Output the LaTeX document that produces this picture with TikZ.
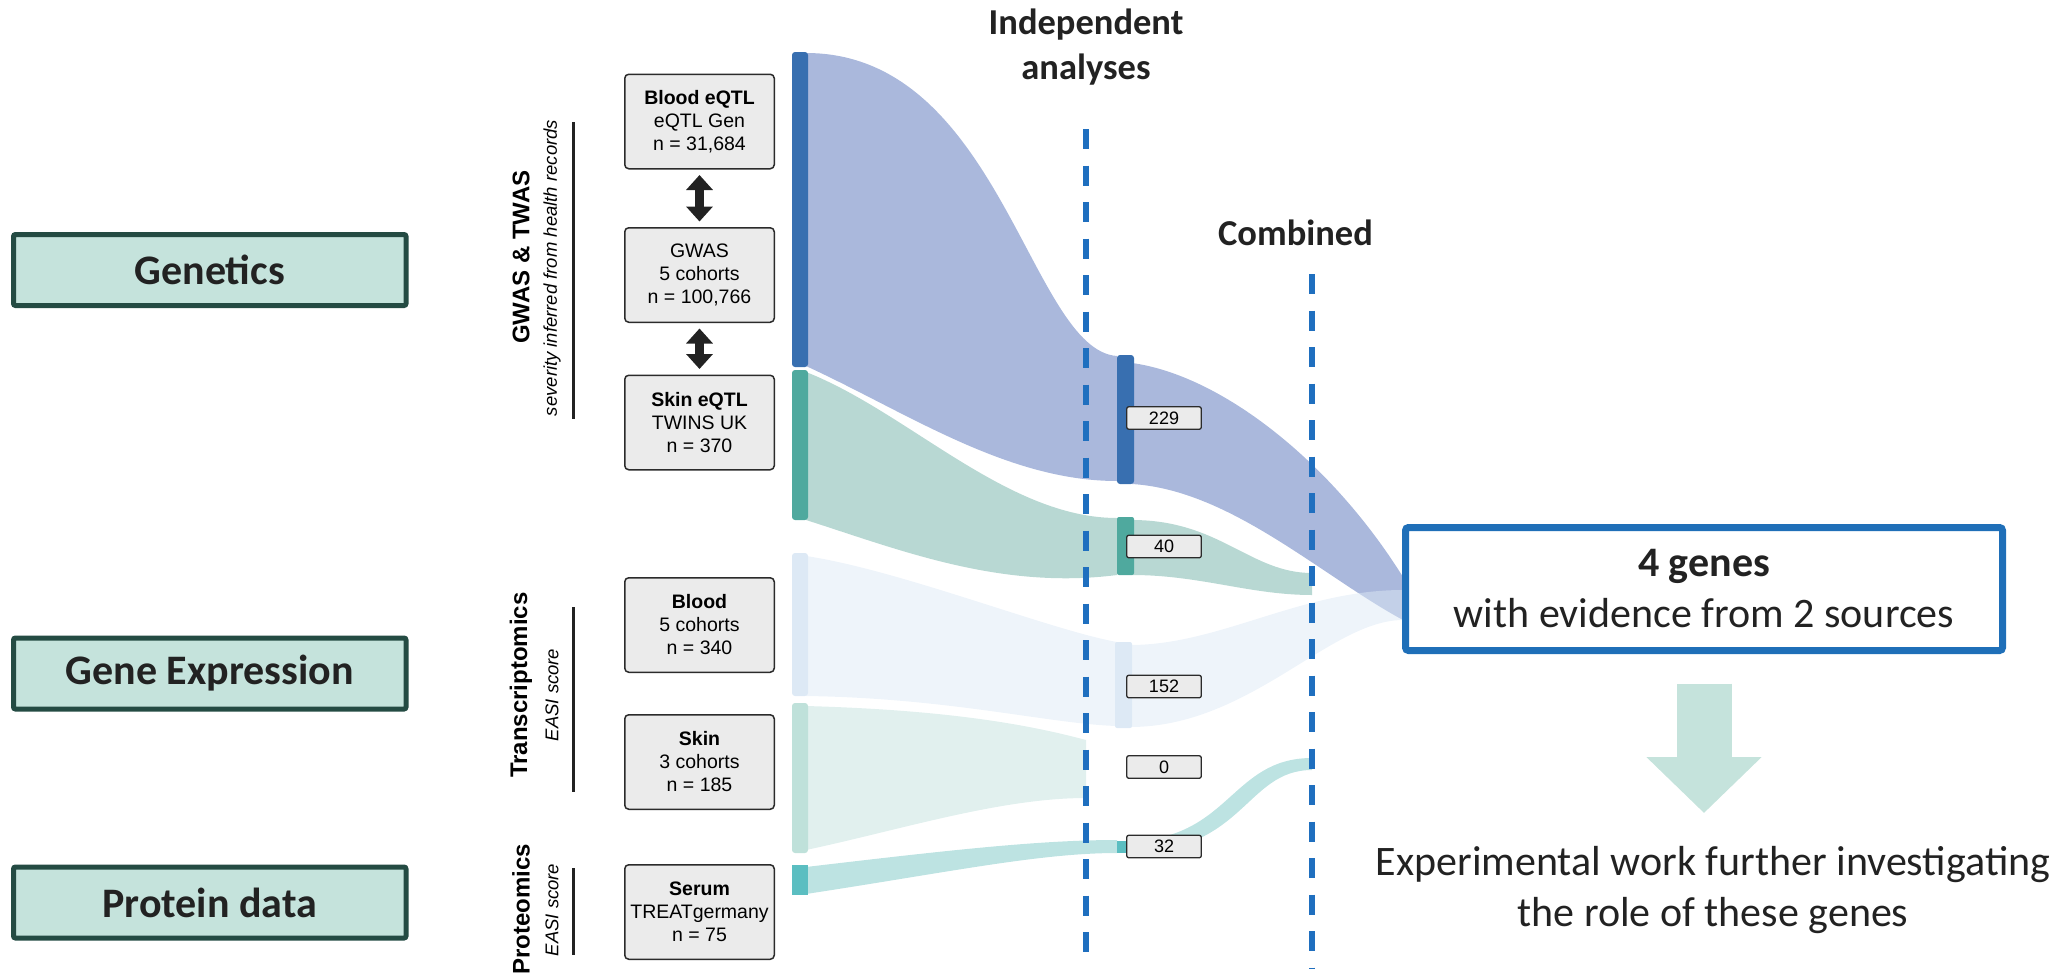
\documentclass[tikz,border=0pt]{standalone}
\usepackage{fontspec}
\setmainfont{Liberation Sans}
\newfontfamily\calibri{Carlito}
\usetikzlibrary{arrows.meta}

\definecolor{mint}{HTML}{C5E3DC}
\definecolor{mintline}{HTML}{244B43}
\definecolor{inkdark}{HTML}{222222}
\definecolor{boxgray}{HTML}{EBEBEB}
\definecolor{boxline}{HTML}{2B2B2B}
\definecolor{gwasbar}{HTML}{386FB0}
\definecolor{gwasflow}{HTML}{AAB8DC}
\definecolor{skinbar}{HTML}{4FA99E}
\definecolor{skinflow}{HTML}{B8D8D3}
\definecolor{bloodbar}{HTML}{DDE9F5}
\definecolor{tskinbar}{HTML}{BFE1DA}
\definecolor{tskinflow}{HTML}{E1F0EE}
\definecolor{serumbar}{HTML}{5BBEC1}
\definecolor{serumflow}{HTML}{BDE3E2}
\definecolor{cutblue}{HTML}{1F6FBF}
\definecolor{genesblue}{HTML}{1F6FB8}

\newcommand{\srcfont}{\fontsize{19.5}{23}\selectfont}
\newcommand{\colfont}{\calibri\fontsize{36.5}{45}\selectfont\bfseries}
\newcommand{\topicfont}{\calibri\fontsize{42}{50}\selectfont\bfseries}
\newcommand{\resfont}{\calibri\fontsize{42}{51}\selectfont}

\begin{document}
\begin{tikzpicture}[x=1pt, y=-1pt,
  topic/.style = {draw=mintline, line width=5pt, fill=mint, rounded corners=2pt,
    minimum width=392.5pt, minimum height=71pt, inner sep=0pt, font=\topicfont, text=inkdark},
  source/.style = {draw=boxline, line width=1.5pt, fill=boxgray, rounded corners=4pt,
    minimum width=149.5pt, minimum height=94.5pt, inner sep=0pt, align=center, font=\srcfont},
  count/.style = {draw=boxline, line width=1.3pt, fill=boxgray, rounded corners=2pt,
    minimum width=74.5pt, minimum height=22.5pt, inner sep=0pt, font=\fontsize{18}{21}\selectfont},
  sidetitle/.style = {rotate=90, inner sep=0pt, font=\fontsize{24}{28}\selectfont\bfseries},
  sidenote/.style = {rotate=90, inner sep=0pt, font=\fontsize{18.5}{22}\selectfont\itshape},
  bracket/.style = {line width=3pt, draw=inkdark},
  cut/.style = {draw=cutblue, line width=6pt, dash pattern=on 20pt off 16.5pt},
  link/.style = {draw=inkdark, line width=9pt,
    {Triangle[width=26pt,length=15pt]}-{Triangle[width=26pt,length=15pt]},
    shorten <=5.5pt, shorten >=5.5pt},
  follows/.style = {draw=mint, line width=55pt, -{Triangle[width=112pt,length=56pt]},
    shorten <=29.5pt}]
  \useasboundingbox (0,0) rectangle (2069,975);

  \coordinate (cutA) at (1086,129);
  \coordinate (cutAend) at (1086,968);
  \coordinate (cutB) at (1312,274);
  \coordinate (cutBend) at (1312,968);
  \coordinate (tip) at (1704,813);

  \fill[gwasflow] (806,53) .. controls (1000,53) and (1030,350) .. (1117,356)
    -- (1117,481) .. controls (1007,481) and (908,413) .. (806,366) -- cycle;
  \fill[gwasflow] (1132,363) .. controls (1220,375) and (1330,460) .. (1403,577)
    -- (1403,620) .. controls (1320,575) and (1230,490) .. (1132,484) -- cycle;
  \fill[skinflow] (806,372) .. controls (908,412) and (1007,518) .. (1117,518)
    -- (1117,575) .. controls (1000,590) and (900,550) .. (806,520) -- cycle;
  \fill[skinflow] (1132,520) .. controls (1220,520) and (1250,573) .. (1312,573)
    -- (1312,595) .. controls (1250,595) and (1200,575) .. (1132,575) -- cycle;
  \fill[bloodbar, fill opacity=0.5] (806,556) .. controls (900,570) and (1050,630) .. (1117,642)
    -- (1117,726) .. controls (1050,724) and (950,698) .. (806,696) -- cycle;
  \fill[bloodbar, fill opacity=0.5] (1130,645) .. controls (1220,645) and (1300,590) .. (1403,590)
    -- (1403,620) .. controls (1330,620) and (1250,727) .. (1130,727) -- cycle;
  \fill[tskinflow] (806,706) .. controls (950,710) and (1030,725) .. (1086,740)
    -- (1086,798) .. controls (1000,798) and (900,830) .. (806,850) -- cycle;
  \fill[serumflow] (806,867) .. controls (950,850) and (1040,840) .. (1117,840)
    -- (1117,853) .. controls (1040,853) and (950,872) .. (806,894) -- cycle;
  \fill[serumflow] (1126,841) .. controls (1230,841) and (1230,758) .. (1312,758)
    -- (1312,770) .. controls (1245,770) and (1245,853) .. (1126,853) -- cycle;

  \fill[gwasbar, rounded corners=3pt] (792,52) rectangle (808,367);
  \fill[skinbar, rounded corners=3pt] (792,370) rectangle (808,520);
  \fill[bloodbar, rounded corners=3pt] (792,553) rectangle (808,696);
  \fill[tskinbar, rounded corners=3pt] (792,703) rectangle (808,853);
  \fill[serumbar] (792,865) rectangle (808,895);
  \fill[gwasbar, rounded corners=3pt] (1117,355) rectangle (1134,484);
  \fill[skinbar, rounded corners=2pt] (1117,517) rectangle (1134,575);
  \fill[bloodbar, rounded corners=2pt] (1115,642) rectangle (1132,728);
  \fill[serumbar] (1117,841) rectangle (1134,853);

  \draw[cut] (cutA) -- (cutAend);
  \draw[cut] (cutB) -- (cutBend);

  \node[topic] (genetics) at (209.75,270) {Genetics};
  \node[topic] (expression) at (209.75,673.5) {Gene Expression};
  \node[topic] (protein) at (209.75,902.5) {Protein data};

  \node[source] (bloodqtl) at (699.5,121.5) {\textbf{Blood eQTL}\\eQTL Gen\\n = 31,684};
  \node[source] (gwas) at (699.5,275) {GWAS\\5 cohorts\\n = 100,766};
  \node[source] (skinqtl) at (699.5,422.5) {\textbf{Skin eQTL}\\TWINS UK\\n = 370};
  \node[source] (blood) at (699.5,625) {\textbf{Blood}\\5 cohorts\\n = 340};
  \node[source] (skin) at (699.5,762) {\textbf{Skin}\\3 cohorts\\n = 185};
  \node[source] (serum) at (699.5,912) {\textbf{Serum}\\TREATgermany\\n = 75};
  \draw[link] (bloodqtl) -- (gwas);
  \draw[link] (gwas) -- (skinqtl);

  \node[sidetitle] (gwastitle) at (521,257) {GWAS \& TWAS};
  \node[sidenote] (gwasnote) at (552,268) {severity inferred from health records};
  \draw[bracket] (573,122) -- (573,419);
  \node[sidetitle] (transtitle) at (521,685) {Transcriptomics};
  \node[sidenote] (transnote) at (552,695) {EASI score};
  \draw[bracket] (573,607) -- (573,792);
  \node[sidetitle] (prottitle) at (521,909) {Proteomics};
  \node[sidenote] (protnote) at (552,910) {EASI score};
  \draw[bracket] (573,868) -- (573,955);

  \node[count] (n229) at (1164,418) {229};
  \node[count] (n40) at (1164,546.5) {40};
  \node[count] (n152) at (1164,686.5) {152};
  \node[count] (n0) at (1164,767) {0};
  \node[count] (n32) at (1164,846.5) {32};

  \node[font=\colfont, align=center, inner sep=0pt, text=inkdark] (indep) at (1086,46.75) {Independent\\analyses};
  \node[font=\colfont, inner sep=0pt, text=inkdark] (comb) at (1295.5,232.5) {Combined};

  \node[draw=genesblue, line width=7pt, fill=white, rounded corners=3pt, minimum width=597pt,
    minimum height=123pt, inner sep=0pt, align=center, font=\resfont, text=inkdark]
    (genes) at (1704,589) {\textbf{4 genes}\\with evidence from 2 sources};
  \draw[follows] (genes.south) -- (tip);
  \node[font=\resfont, align=center, inner sep=0pt, text=inkdark] (work) at (1713,890)
    {Experimental work further investigating\\the role of these genes};
\end{tikzpicture}
\end{document}
